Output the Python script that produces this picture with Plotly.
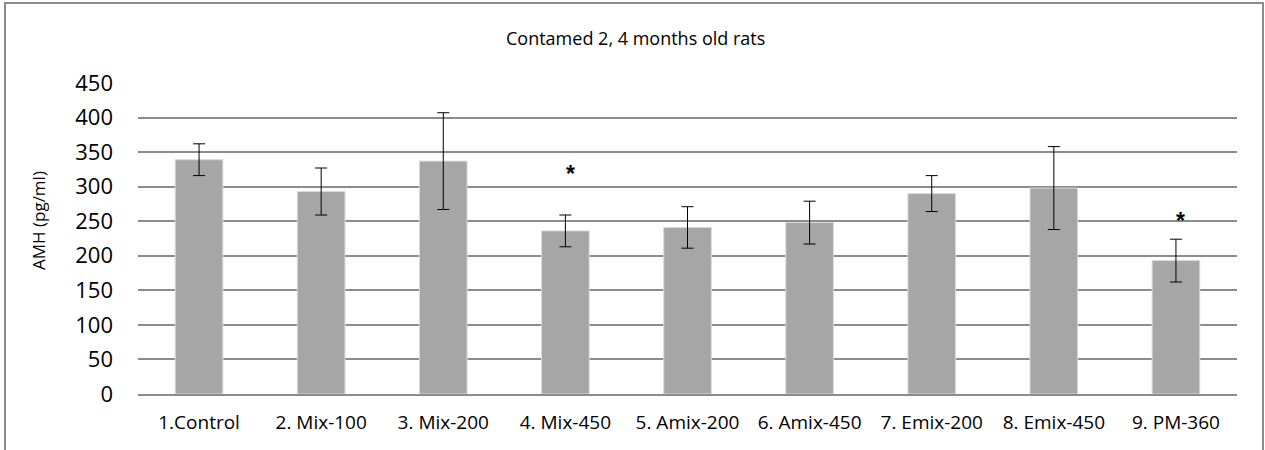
import plotly.graph_objects as go

categories = ["1.Control", "2. Mix-100", "3. Mix-200", "4. Mix-450", "5. Amix-200",
              "6. Amix-450", "7. Emix-200", "8. Emix-450", "9. PM-360"]
means = [339, 293, 337, 236, 241, 248, 290, 298, 193]
errors = [23, 34, 70, 23, 30, 31, 26, 60, 31]
star_categories = ["4. Mix-450", "9. PM-360"]
star_values = [318, 250]

W, H = 1265, 450
ML, MR, MT, MB = 138, 28, 83, 56

fig = go.Figure()
fig.add_trace(go.Bar(
    x=categories, y=means,
    marker=dict(color="#A6A6A6", line=dict(color="#D9D9D9", width=1)),
    error_y=dict(type="data", array=errors, visible=True, color="#000000",
                 thickness=1, width=6),
    width=0.39,
))

for c, v in zip(star_categories, star_values):
    fig.add_annotation(x=c, y=v, text="<b>*</b>", showarrow=False, xshift=5,
                       font=dict(size=23, color="#000000", family="Liberation Sans"),
                       yanchor="middle")

pw = W - ML - MR
ph = H - MT - MB

def px_x(p):
    return (p - ML) / pw

def px_y(p):
    return (H - MB - p) / ph

fig.add_annotation(xref="paper", yref="paper", x=px_x(635), y=px_y(38),
                   text="Contamed 2, 4 months old rats", showarrow=False,
                   font=dict(size=18, color="#000000"), xanchor="center", yanchor="middle")
fig.add_annotation(xref="paper", yref="paper", x=px_x(38), y=px_y(221),
                   text="AMH (pg/ml)", showarrow=False, textangle=-90,
                   font=dict(size=17, color="#000000"), xanchor="center", yanchor="middle")

fig.add_shape(type="rect", xref="paper", yref="paper",
              x0=px_x(5), x1=px_x(1263), y0=px_y(470), y1=px_y(3),
              line=dict(color="#8C8C8C", width=2), fillcolor="rgba(0,0,0,0)", layer="below")

fig.update_layout(
    width=W, height=H,
    margin=dict(l=ML, r=MR, t=MT, b=MB),
    paper_bgcolor="white", plot_bgcolor="white",
    font=dict(family="Open Sans", color="#000000"),
    showlegend=False,
    xaxis=dict(showgrid=False, showline=True, linecolor="#8C8C8C", linewidth=2,
               ticks="", tickfont=dict(size=19, color="#000000"), ticklabelstandoff=10),
    yaxis=dict(range=[0, 450], dtick=50, showgrid=True, gridcolor="#8C8C8C", gridwidth=2,
               zeroline=False, showline=False, ticks="",
               tickfont=dict(size=22, color="#000000"), ticklabelstandoff=24),
)

fig.write_html("out.html", config={"displayModeBar": False},
               post_script="document.body.style.margin='0';")
